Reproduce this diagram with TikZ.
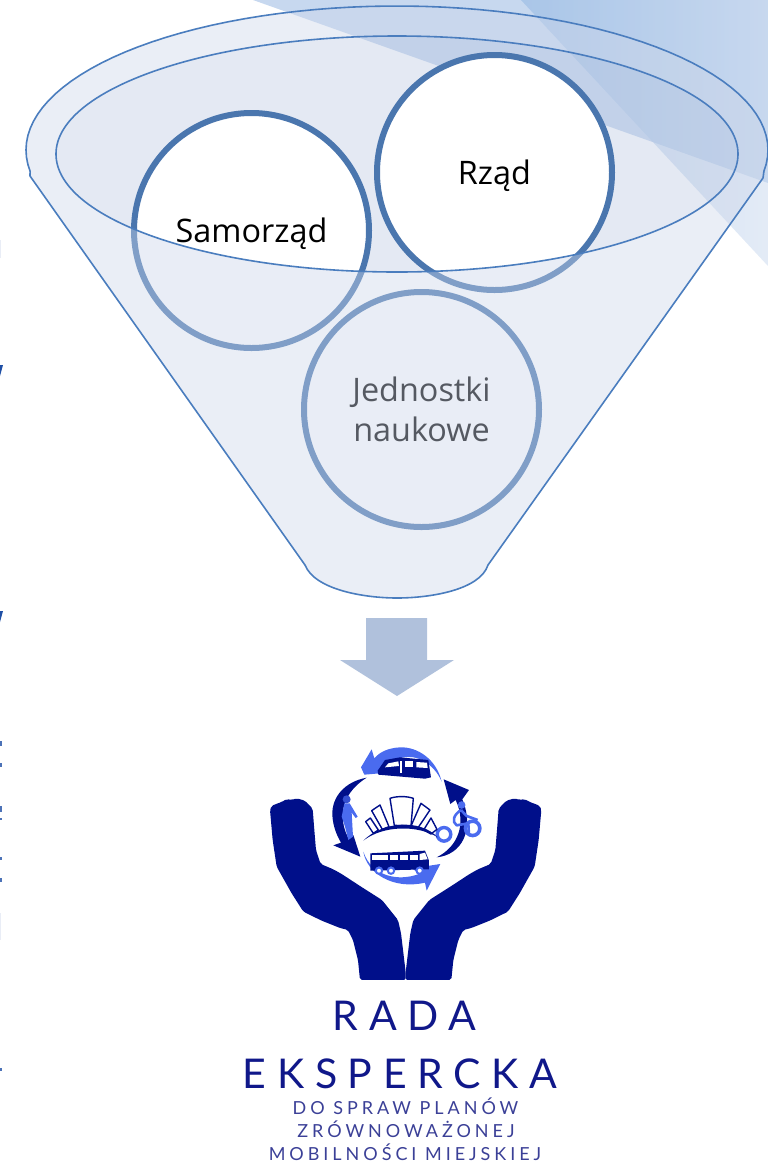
\documentclass[tikz,border=0pt]{standalone}
\usepackage{fontspec}
\setmainfont{Open Sans}
\newfontfamily\logosmall[LetterSpace=22]{Lato}
\newfontfamily\logobig[LetterSpace=26]{Lato}
\definecolor{ringblue}{HTML}{4A76AE}
\definecolor{rimblue}{HTML}{4A7DBE}
\definecolor{wedge}{HTML}{8FB1E0}
\definecolor{wedgedark}{HTML}{8DB4E1}
\definecolor{wedgelight}{HTML}{C8D8EE}
\definecolor{veil}{HTML}{CCD6EA}
\definecolor{lens}{HTML}{BBC8E1}
\definecolor{shaft}{HTML}{B0C1DC}
\definecolor{navy}{HTML}{000F8A}
\definecolor{sky}{HTML}{4A6BEF}
\definecolor{inkbig}{HTML}{10188A}
\definecolor{inksmall}{HTML}{3B4097}
\definecolor{crop}{HTML}{1F4FA5}
\tikzset{
  partner/.style={circle,draw=ringblue,line width=6pt,fill=white,text=black,inner sep=0pt,outer sep=0pt,minimum size=235pt,align=center,font=\fontsize{32.4}{40}\selectfont},
  biglabel/.style={anchor=base,text=inkbig,inner sep=0pt,font=\logobig\fontsize{41}{41}\selectfont},
  smalllabel/.style={anchor=base,text=inksmall,inner sep=0pt,font=\logosmall\fontsize{18}{18}\selectfont},
  glass/.style={line width=1.4pt,draw=navy,fill=white,line join=round}
}
\newcommand{\funnelpath}{plot[domain=188.5:-8.5,samples=70] ({397+371*cos(\x)},{150-144*sin(\x)}) -- (763,178) -- (488,565) .. controls (480,590) and (430,598) .. (397,598) .. controls (365,598) and (315,590) .. (305,565) -- (30,176) -- cycle}
\newcommand{\handpath}{(60,240) -- (64,228) -- (78,222) -- (95,216) -- (110,207) -- (125,210) -- (140,205) -- (165,212) -- (188,236) -- (193,300) -- (198,360) -- (212,402) -- (250,418) -- (275,432) -- (330,468) -- (396,510) -- (444,570) -- (453,609) -- (467,726) -- (467,750) -- (330,750) -- (324,690) -- (309,630) -- (294,600) -- (270,594) -- (215,572) -- (160,545) -- (125,490) -- (80,410) -- (68,330) -- cycle}
\begin{document}
\begin{tikzpicture}[x=1pt,y=-1pt]
\useasboundingbox (0,0) rectangle (768,1163);
% the wedges behind the funnel
\fill[wedge,fill opacity=.5] (253,0) -- (768,183) -- (768,0) -- cycle;
\shade[left color=wedgedark,right color=wedgelight,opacity=.5] (521,0) -- (768,266) -- (768,0) -- cycle;
\fill[lens,fill opacity=.4] (397,154) ellipse [x radius=341pt,y radius=118pt];
%% the three circles
\node[partner] (samorzad) at (251.5,230.5) {\raisebox{-12pt}[0pt][0pt]{Samorząd}};
\node[partner] (rzad) at (494.5,172.5) {\raisebox{-12pt}[0pt][0pt]{Rząd}};
\node[partner] (naukowe) at (421.5,409.5) {Jednostki\\naukowe};
% the veil of the funnel and its outlines
\fill[veil,fill opacity=.42,even odd rule] \funnelpath (397,154) ellipse [x radius=341pt,y radius=118pt];
\draw[rimblue,line width=1.6pt,line join=round] \funnelpath;
\draw[rimblue,line width=1.6pt] (397,154) ellipse [x radius=341pt,y radius=118pt];
%% the block arrow
\fill[shaft] (366,618) -- (427,618) -- (427,660) -- (454,660) -- (397,696) -- (340,660) -- (366,660) -- cycle;
% the hands
\begin{scope}[shift={(250,730)},x=.3333pt,y=-.3333pt]
\fill[navy,rounded corners=2pt] \handpath;
\end{scope}
\begin{scope}[shift={(561.33,730)},x=-.3333pt,y=-.3333pt]
\fill[navy,rounded corners=2pt] \handpath;
\end{scope}
% the cycle of vehicles
\begin{scope}[shift={(325,740)},x=.3333pt,y=-.3333pt]
\fill[sky] (350,125) .. controls (335,60) and (280,20) .. (225,22) .. controls (190,24) and (165,35) .. (148,55) -- (140,28) -- (108,82) -- (118,104) -- (165,100) .. controls (185,65) and (240,35) .. (290,60) .. controls (320,75) and (340,100) .. (350,125) -- cycle;
\fill[navy] (125,113) .. controls (60,125) and (20,170) .. (22,225) .. controls (24,260) and (35,285) .. (48,308) -- (25,316) -- (106,350) -- (85,285) -- (72,298) .. controls (45,250) and (35,170) .. (125,113) -- cycle;
\fill[sky] (115,335) .. controls (125,400) and (205,450) .. (300,428) -- (305,452) -- (346,372) -- (262,385) -- (282,402) .. controls (220,425) and (140,410) .. (115,335) -- cycle;
\fill[navy] (335,352) .. controls (410,345) and (450,270) .. (412,178) -- (432,150) -- (356,118) -- (376,192) -- (392,180) .. controls (425,250) and (400,320) .. (335,352) -- cycle;
% the train
\fill[navy] (180,60) -- (225,52) -- (310,60) -- (318,112) -- (300,116) -- (160,104) -- (158,92) -- cycle;
\fill[white] (190,70) -- (220,64) -- (222,78) -- (180,82) -- cycle;
\fill[white] (240,64) -- (265,64) -- (265,80) -- (240,80) -- cycle;
\fill[white] (274,66) -- (306,68) -- (308,84) -- (274,82) -- cycle;
\fill[white] (226,64) -- (232,64) -- (232,100) -- (226,100) -- cycle;
% the bus
\fill[navy] (136,340) -- (300,332) -- (312,362) -- (312,388) -- (136,392) -- cycle;
\foreach \wx in {140,166,194,224,254}
  \fill[white] (\wx,346) rectangle ++(24,14);
\fill[white] (284,342) -- (300,338) -- (308,358) -- (284,360) -- cycle;
\foreach \wx in {162,198,284}
  \draw[sky,line width=2pt,fill=white] (\wx,392) circle (3.2pt);
% the walker
\fill[sky!70!navy] (65,178) circle (4pt);
\fill[sky] (58,190) -- (74,190) -- (98,230) -- (92,234) -- (80,218) -- (84,290) -- (70,300) -- (60,260) -- (50,230) -- cycle;
% the cyclist
\draw[sky,line width=3.4pt,fill=white] (357,283) circle (6.8pt);
\draw[sky,line width=3.6pt] (443,265) circle (7.2pt);
\fill[sky] (410,195) circle (3.8pt);
\draw[sky,line width=2.6pt,line join=round] (408,210) -- (425,228) -- (458,240);
\draw[sky,line width=2.6pt,line join=round] (408,210) .. controls (385,225) and (380,245) .. (395,256) -- (430,250) -- (432,285);
% the buildings
\draw[glass] (195,175) .. controls (215,168) and (245,168) .. (265,175) -- (258,258) -- (208,256) -- cycle;
\draw[glass] (140,212) -- (165,195) -- (192,260) -- (172,268) -- cycle;
\draw[glass] (122,245) -- (136,234) -- (160,270) -- (145,280) -- cycle;
\draw[glass] (288,190) -- (315,210) -- (278,265) -- (258,258) -- cycle;
\draw[glass] (318,234) -- (336,268) -- (318,282) -- (296,270) -- cycle;
\fill[navy] (115,302) .. controls (170,245) and (285,235) .. (338,292) .. controls (280,255) and (175,255) .. (115,302) -- cycle;
\end{scope}
%% the labels
\node[biglabel] (rada) at (404.5,1030) {RADA};
\node[biglabel] (ekspercka) at (400,1088) {EKSPERCKA};
\node[smalllabel] (dospraw) at (405.5,1114) {DO SPRAW PLANÓW};
\node[smalllabel] (zrown) at (406,1137) {ZRÓWNOWAŻONEJ};
\node[smalllabel] (mobil) at (405,1160) {MOBILNOŚCI MIEJSKIEJ};
% the cut off marks on the left edge
\fill[crop] (0,365) -- (3,365) -- (0,376) -- cycle;
\fill[crop] (0,611) -- (3,611) -- (0,622) -- cycle;
\foreach \ya/\yb in {741/746,763/767,806/812,818/820,857/860,878/882,1068/1071}
  \fill[crop,fill opacity=.8] (0,\ya) rectangle (1.5,\yb);
\foreach \ya/\yb in {240/258,913/940}
  \fill[crop!10] (0,\ya) rectangle (1,\yb);
\end{tikzpicture}
\end{document}
